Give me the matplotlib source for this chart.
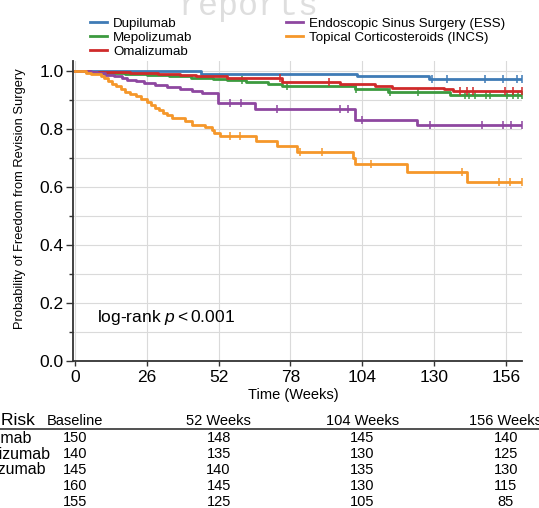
import numpy as np
import matplotlib as mpl
mpl.use('Agg')
import matplotlib.pyplot as plt
import matplotlib.transforms as mtransforms
from matplotlib.ticker import MultipleLocator, FormatStrFormatter
from matplotlib.lines import Line2D

plt.rcParams['font.family'] = ['Liberation Sans', 'DejaVu Sans']
plt.rcParams['mathtext.fontset'] = 'custom'
plt.rcParams['mathtext.rm'] = 'Liberation Sans'
plt.rcParams['mathtext.it'] = 'Liberation Sans:italic'

# Kaplan-Meier steps (weeks, survival after the step)
dup_t = [0, 45.5, 102, 128]
dup_s = [1.0, 0.991, 0.982, 0.972]
dup_c = [129.2, 134.6, 148.3, 155, 159.9, 161.7]

mep_t = [0, 4, 10, 18, 26, 34, 42, 50, 55, 62, 70, 75, 101.3, 113.4, 135.8]
mep_s = [1.0, 0.997, 0.994, 0.99, 0.986, 0.982, 0.977, 0.972, 0.968, 0.963, 0.957, 0.95, 0.94, 0.929, 0.917]
mep_c = [60.3, 76.6, 101.8, 114, 124.3, 141, 142.8, 144.8, 148.9, 150.2, 156.3, 158.7, 160.5, 161.7]

oma_t = [0, 5, 12, 20, 30, 38, 44, 55, 61, 74.8, 96, 108.6, 114.6, 133.4, 137]
oma_s = [1.0, 0.998, 0.996, 0.993, 0.99, 0.987, 0.983, 0.978, 0.975, 0.962, 0.955, 0.947, 0.941, 0.937, 0.932]
oma_c = [74.2, 92, 139.4, 141.8, 144.2, 155.7, 158.7, 161.7]

ess_t = [0, 6, 8, 11, 14, 17, 19, 22, 25, 29, 33.5, 38, 42.5, 46, 51.8, 65.2, 101.3, 123.7]
ess_s = [1.0, 0.996, 0.992, 0.988, 0.983, 0.976, 0.97, 0.965, 0.958, 0.952, 0.946, 0.94, 0.931, 0.925, 0.89, 0.869, 0.831, 0.815]
ess_c = [56, 60, 73, 96, 99, 104, 128.5, 147.2, 155, 157.7, 161.7]

incs_t = [0, 4, 6, 9.5, 10.5, 12, 13.5, 15, 16.5, 18, 20, 22, 24, 26, 27.5, 29, 30.5, 32, 33.5, 35,
          40, 42.5, 47, 49.5, 50.5, 52.5, 65.5, 73.2, 80.5, 100.8, 101.5, 120.3, 142]
incs_s = [1.0, 0.995, 0.99, 0.984, 0.975, 0.966, 0.957, 0.948, 0.94, 0.928, 0.921, 0.913, 0.905, 0.895,
          0.884, 0.873, 0.865, 0.856, 0.847, 0.838, 0.828, 0.815, 0.808, 0.797, 0.786, 0.776, 0.757,
          0.741, 0.722, 0.70, 0.681, 0.653, 0.618]
incs_c = [56, 59.7, 81.5, 89.3, 107, 140, 153.3, 157.5, 161.7]

end_t = 161.7

groups = ['Dupilumab', 'Mepolizumab', 'Omalizumab',
          'Endoscopic Sinus Surgery (ESS)', 'Topical Corticosteroids (INCS)']
colors = ['#3f7bb6', '#3c9a3f', '#cf2a2a', '#8e47a0', '#f5972a']
curves = [(dup_t, dup_s, dup_c), (mep_t, mep_s, mep_c), (oma_t, oma_s, oma_c),
          (ess_t, ess_s, ess_c), (incs_t, incs_s, incs_c)]

# number at risk table
risk_times = [0, 52, 104, 156]
risk_headers = ['Baseline', '52 Weeks', '104 Weeks', '156 Weeks']
row_labels = ['Dupilumab', 'Mepolizumab', 'Omalizumab', 'ESS', 'INCS']
risk_baseline = [150, 140, 145, 160, 155]
risk_52 = [148, 135, 140, 145, 125]
risk_104 = [145, 130, 135, 130, 105]
risk_156 = [140, 125, 130, 115, 85]

fig = plt.figure(figsize=(5.39, 5.08), dpi=100)
W, H = 539.0, 508.0
ax = fig.add_axes([72.7 / W, 1 - 360.7 / H, (522 - 72.7) / W, (360.7 - 61) / H])

for (t, s, c), col, name in zip(curves, colors, groups):
    ax.step(list(t) + [end_t], list(s) + [s[-1]], where='post', color=col, lw=2.0, label=name,
            zorder=3)
    idx = np.searchsorted(t, c, side='right') - 1
    ax.plot(c, np.array(s)[idx], ls='none', marker='|', ms=6, mew=1.1, color=col, zorder=3)

ax.set_xlim(-0.8, 161.8)
ax.set_ylim(0, 1.035)
ax.set_xticks(np.arange(0, 157, 26))
ax.yaxis.set_major_locator(MultipleLocator(0.2))
ax.yaxis.set_minor_locator(MultipleLocator(0.1))
ax.yaxis.set_major_formatter(FormatStrFormatter('%.1f'))
ax.grid(which='major', color='#dadada', lw=0.8)
ax.grid(which='minor', axis='y', color='#dadada', lw=0.8)
ax.set_axisbelow(True)
for sp in ['top', 'right']:
    ax.spines[sp].set_visible(False)
for sp in ['left', 'bottom']:
    ax.spines[sp].set_linewidth(1.3)
    ax.spines[sp].set_color('#333333')
ax.tick_params(axis='y', which='major', length=5, width=1, pad=1.5, labelsize=12.5, color='#333333')
ax.tick_params(axis='y', which='minor', length=3, width=1, color='#333333')
ax.tick_params(axis='x', which='major', length=3.5, width=1, pad=3, labelsize=12.5, color='#333333')

ax.set_xlabel('Time (Weeks)', fontsize=10.5, va='center')
ax.xaxis.set_label_coords(0.49, (360.7 - 395) / 299.7)
ax.set_ylabel('Probability of Freedom from Revision Surgery', fontsize=9.3, va='center')
ax.yaxis.set_label_coords((20.5 - 72.7) / 449.3, 0.5415)

ax.text(8.1, 0.1475, r'log-rank $p<0.001$', fontsize=12.5, va='center', ha='left')

# legend at the top
handles = [Line2D([], [], color=c, lw=2) for c in colors]
fig.legend(handles, groups, ncol=2, loc='upper left', bbox_to_anchor=(90 / W, 1 - 17.5 / H),
           frameon=False, fontsize=9.6, handlelength=1.3, handletextpad=0.45,
           columnspacing=7.0, labelspacing=0.13, borderpad=0, borderaxespad=0)

# faint watermark cut at the top edge
fig.text(248 / W, 1 - 15 / H, 'reports', fontsize=24, family='Liberation Mono',
         color='#dedede', ha='center', va='baseline', zorder=0)

# number at risk table
tr = mtransforms.blended_transform_factory(ax.transData, fig.transFigure)
head_y = 1 - 420.7 / H
fig.text(35 / W, head_y, 'Number at Risk', fontsize=12.5, ha='right', va='center')
for tp, hd in zip(risk_times, risk_headers):
    ax.text(tp, head_y, hd, transform=tr, fontsize=10.5, ha='center', va='center', clip_on=False)
fig.add_artist(Line2D([0, 1], [1 - 429 / H, 1 - 429 / H], color='#333333', lw=1.2))

row_y = [438, 454, 470, 485.7, 501.7]
cols = [risk_baseline, risk_52, risk_104, risk_156]
for i, lab in enumerate(row_labels):
    y = 1 - row_y[i] / H
    fig.text(-44 / W, y, lab, fontsize=11.5, ha='left', va='center')
    for tp, col in zip(risk_times, cols):
        ax.text(tp, y, str(col[i]), transform=tr, fontsize=10.5, ha='center', va='center',
                clip_on=False)

fig.savefig('out.png', dpi=100)
